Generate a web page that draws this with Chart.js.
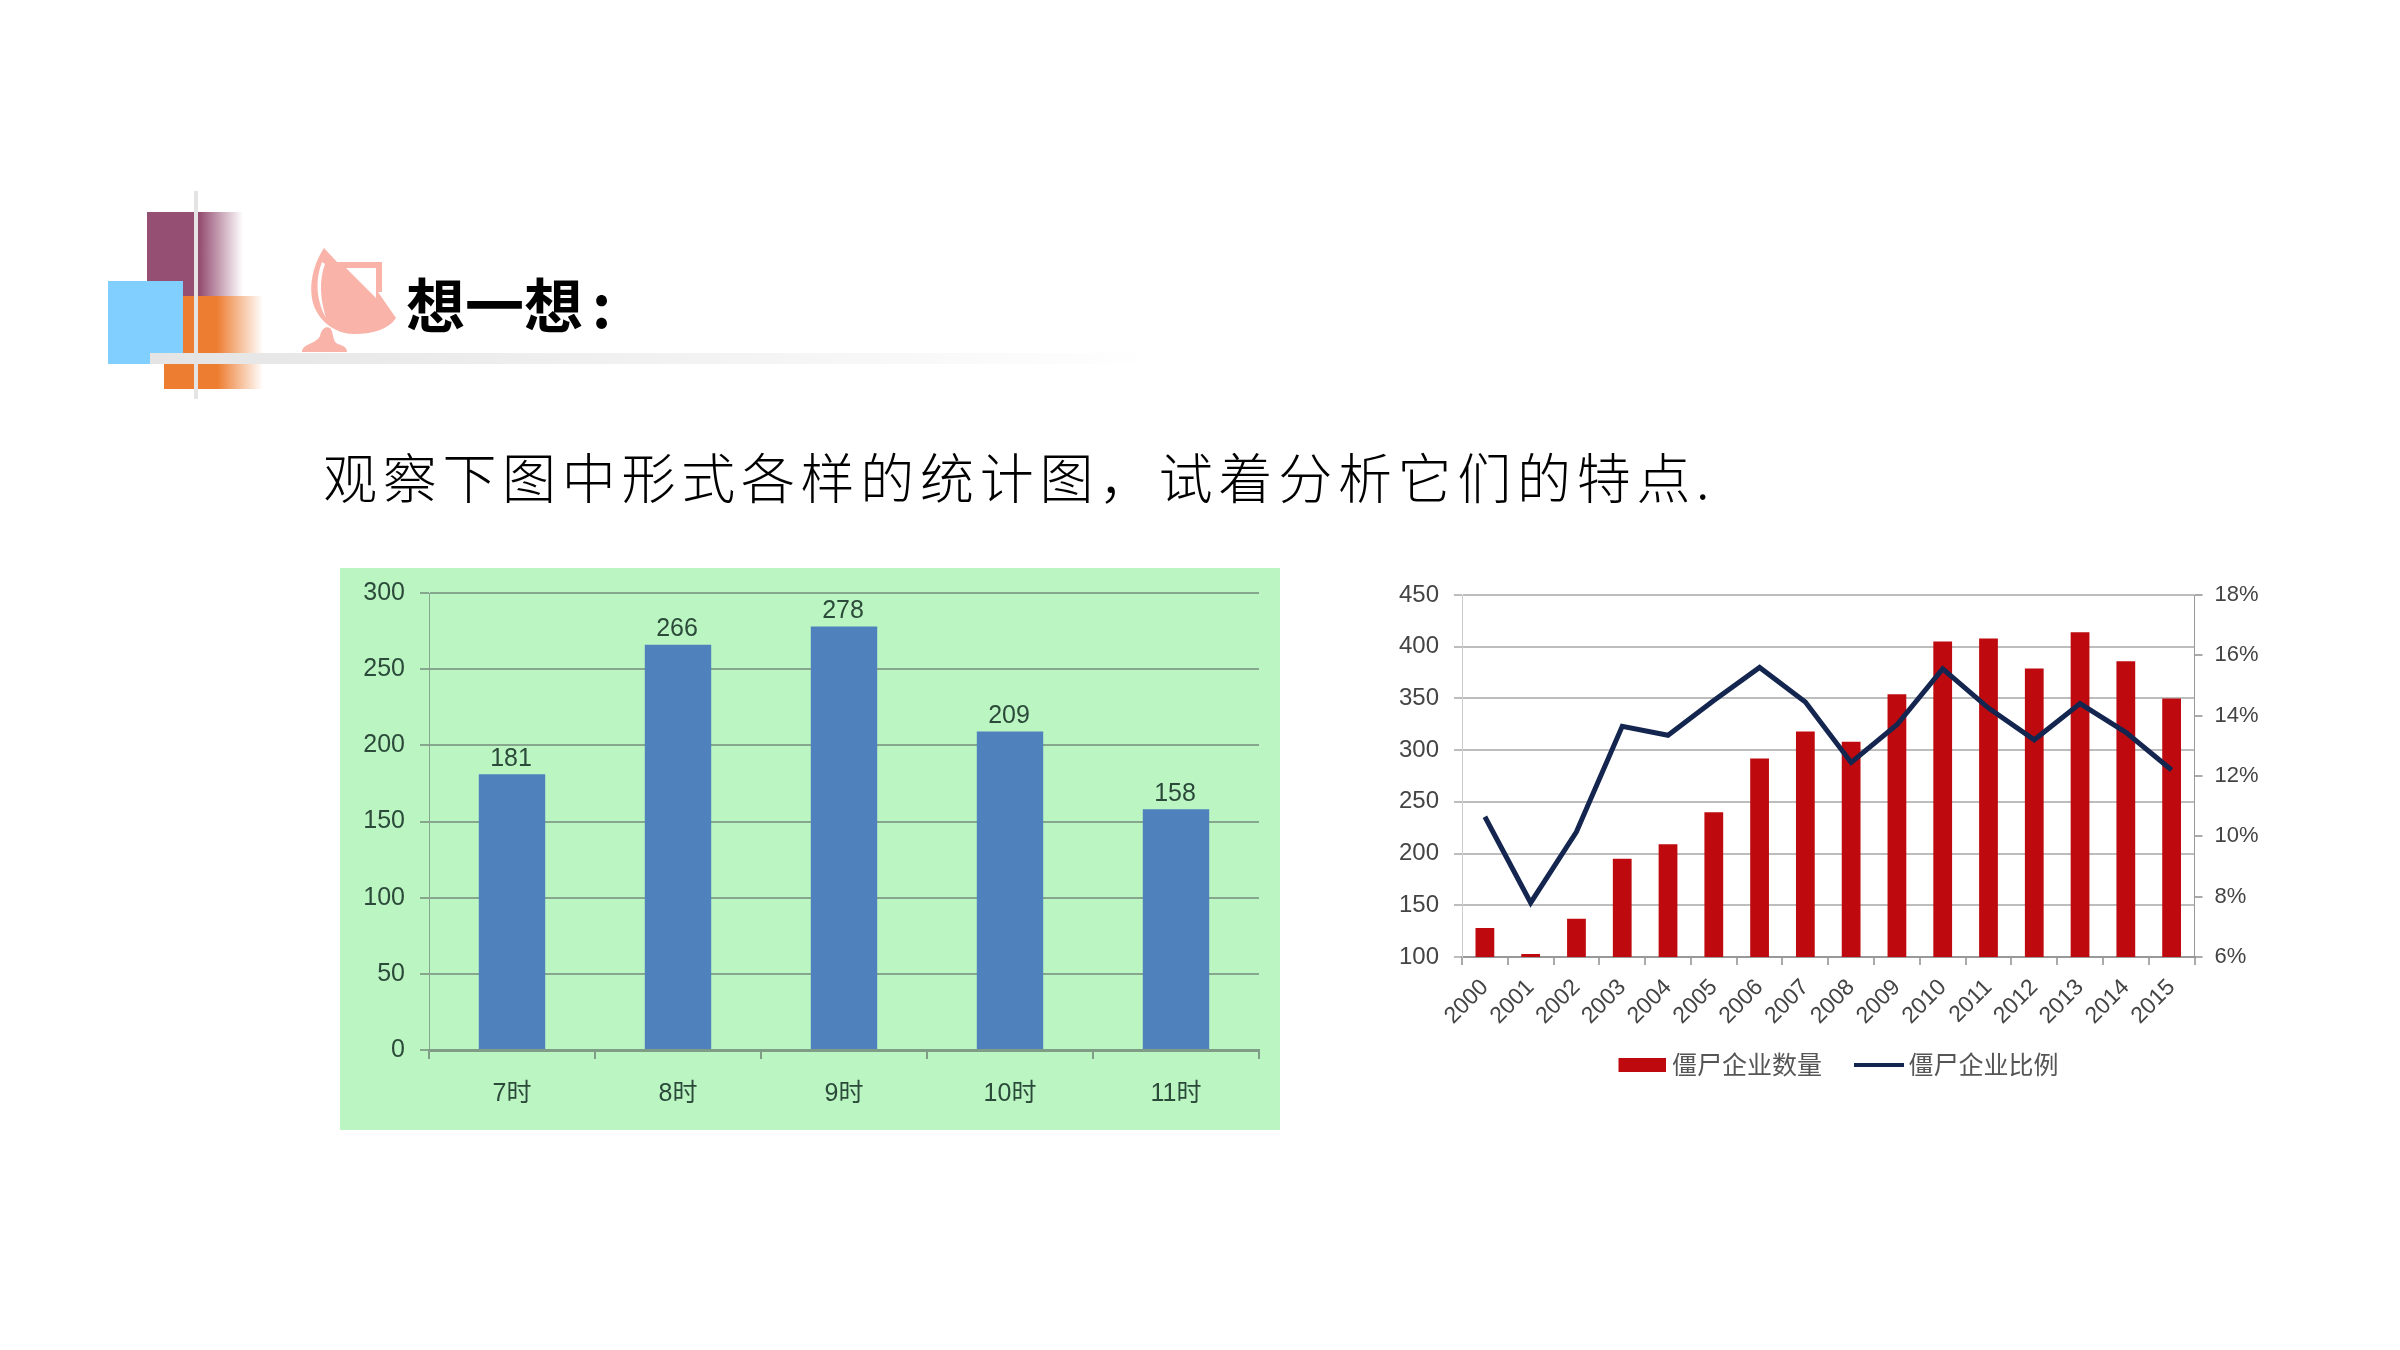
<!DOCTYPE html>
<html lang="zh">
<head>
<meta charset="utf-8">
<title>想一想</title>
<script src="https://cdn.jsdelivr.net/npm/chart.js@4"></script>
<style>
  html, body { margin: 0; width: 2400px; height: 1350px; background: #fff; overflow: hidden; }
  .box { position: absolute; }
  canvas { position: absolute; display: block; }
  #title { position: absolute; left: 406px; top: 263px; font: 700 59px/80px "Noto Sans CJK SC", sans-serif; color: #000; white-space: nowrap; }
  #title span { margin-left: 9px; }
  #subtitle { position: absolute; left: 323px; top: 437px; font: 300 54px/78px "Noto Sans CJK SC", serif; letter-spacing: 5.7px; color: #000; white-space: nowrap; }
</style>
</head>
<body>
<!-- header decoration -->
<div class="box" style="left:147px;top:212px;width:96px;height:84px;background:linear-gradient(90deg,#954f72 0,#954f72 55%,rgba(149,79,114,0) 100%)"></div>
<div class="box" style="left:183px;top:296px;width:80px;height:57px;background:linear-gradient(90deg,#ed7d31 0,#ed7d31 42%,rgba(237,125,49,0) 100%)"></div>
<div class="box" style="left:164px;top:364px;width:99px;height:25px;background:linear-gradient(90deg,#ed7d31 0,#ed7d31 54%,rgba(237,125,49,0) 100%)"></div>
<div class="box" style="left:108px;top:281px;width:75px;height:83px;background:#80cfff"></div>
<div class="box" style="left:150px;top:353px;width:1010px;height:11px;background:linear-gradient(90deg,#e4e4e4 0,#f4f4f4 60%,rgba(255,255,255,0) 100%)"></div>
<div class="box" style="left:194px;top:191px;width:4px;height:208px;background:#e4e4e4"></div>
<svg class="box" style="left:295px;top:240px" width="110" height="120" viewBox="295 240 110 120">
  <path d="M324 248 C312 266 308 290 314 306 C320 322 336 334 354 334 C372 334 388 330 396 318 L378 292 L382 292 L382 262 L345 262 L337 262 Z" fill="#f9b3a8"/>
  <path d="M346 268 L376 268 L376 298 Z" fill="#fff"/>
  <path d="M322 262 C315 280 316 300 326 318 C320 298 319 280 325 264 Z" fill="#fff"/>
  <path d="M302 352 C302 344 316 344 320 336 C322 328 326 326 330 328 C334 332 332 342 338 344 C344 346 347 348 347 352 Z" fill="#f9b3a8"/>
</svg>
<div id="title">想一想<span>:</span></div>
<div id="subtitle">观察下图中形式各样的统计图，试着分析它们的特点.</div>

<div class="box" style="left:340px;top:568px;width:940px;height:562px;background:#bbf5c2"></div>
<canvas id="hourChart" style="left:340px;top:568px"></canvas>
<canvas id="zombieChart" style="left:1370px;top:570px"></canvas>

<script>
// left chart
const hourLabels = ['7时', '8时', '9时', '10时', '11时'];
const hourValues = [181, 266, 278, 209, 158];

// right chart
const years = ['2000', '2001', '2002', '2003', '2004', '2005', '2006', '2007',
               '2008', '2009', '2010', '2011', '2012', '2013', '2014', '2015'];
const zombieCount = [128, 103, 137, 195, 209, 240, 292, 318, 308, 354, 405, 408, 379, 414, 386, 350];
const zombieShare = [10.65, 7.8, 10.15, 13.65, 13.35, 14.5, 15.6, 14.45, 12.45, 13.7, 15.55, 14.25, 13.2, 14.4, 13.45, 12.2];

const seriesNames = ['僵尸企业数量', '僵尸企业比例'];

const sansFont = "'Liberation Sans', 'Noto Sans CJK SC', sans-serif";

// value labels above the bars of the left chart
const barValueLabels = {
  id: 'barValueLabels',
  afterDatasetsDraw(chart) {
    const { ctx } = chart;
    const meta = chart.getDatasetMeta(0);
    ctx.save();
    ctx.font = '25px ' + sansFont;
    ctx.fillStyle = '#2c4a3a';
    ctx.textAlign = 'center';
    ctx.textBaseline = 'bottom';
    meta.data.forEach((bar, i) => {
      ctx.fillText(hourValues[i], bar.x - 1, bar.y - 3);
    });
    ctx.restore();
  }
};

function setupCanvas(id, w, h) {
  const canvas = document.getElementById(id);
  canvas.width = w;
  canvas.height = h;
  return canvas.getContext('2d');
}

new Chart(setupCanvas('hourChart', 940, 562), {
  type: 'bar',
  data: {
    labels: hourLabels,
    datasets: [{ data: hourValues, backgroundColor: '#4f81bd', barPercentage: 0.4, categoryPercentage: 1 }]
  },
  plugins: [barValueLabels],
  options: {
    responsive: false,
    animation: false,
    layout: { autoPadding: false, padding: { top: 25, right: 21 } },
    plugins: { legend: { display: false }, tooltip: { enabled: false } },
    scales: {
      x: {
        afterFit: scale => { scale.height = 80; },
        grid: { drawOnChartArea: false, color: '#7f9c86', tickLength: 9, lineWidth: 2 },
        border: { color: '#7f9c86', width: 3 },
        ticks: { color: '#2c4a3a', padding: 20, font: { size: 25, family: sansFont } }
      },
      y: {
        min: 0,
        max: 300,
        afterFit: scale => { scale.width = 89; },
        grid: { color: '#86a68e', lineWidth: 2, tickLength: 9 },
        border: { color: '#86a68e', width: 1 },
        // small lineHeight so the label padding does not push the plot top down
        ticks: { stepSize: 50, color: '#2c4a3a', padding: 15, font: { size: 25, lineHeight: 0.8, family: sansFont } }
      }
    }
  }
});

// legend swatches, a filled bar and a short line, nudged right with a clear strip
function swatch(w, h, color) {
  const nudge = 14;
  const c = document.createElement('canvas');
  c.width = w + nudge;
  c.height = h;
  const g = c.getContext('2d');
  g.fillStyle = color;
  g.fillRect(nudge, 0, w, h);
  return c;
}
const legendSwatches = [swatch(48, 14, '#be0a0e'), swatch(50, 4, '#14264f')];

new Chart(setupCanvas('zombieChart', 930, 517), {
  type: 'bar',
  data: {
    labels: years,
    datasets: [
      { type: 'bar', label: seriesNames[0], data: zombieCount, yAxisID: 'y', backgroundColor: '#be0a0e',
        barPercentage: 0.41, categoryPercentage: 1, order: 2 },
      { type: 'line', label: seriesNames[1], data: zombieShare, yAxisID: 'y1', borderColor: '#14264f',
        borderWidth: 5, pointRadius: 0, tension: 0, order: 1 }
    ]
  },
  options: {
    responsive: false,
    animation: false,
    layout: { autoPadding: false, padding: { top: 25 } },
    plugins: {
      tooltip: { enabled: false },
      legend: {
        position: 'bottom',
        labels: {
          usePointStyle: true,
          pointStyleWidth: 48,
          padding: 26,
          color: '#555',
          font: { size: 25, family: "'Noto Sans CJK SC', sans-serif" },
          sort: (a, b) => a.datasetIndex - b.datasetIndex,
          generateLabels: chart => Chart.defaults.plugins.legend.labels.generateLabels(chart)
            .map(item => ({ ...item, pointStyle: legendSwatches[item.datasetIndex] }))
        }
      }
    },
    scales: {
      x: {
        afterFit: scale => { scale.height = 69; },
        grid: { drawOnChartArea: false, color: '#aaa', tickLength: 8, lineWidth: 2 },
        border: { color: '#999', width: 2 },
        ticks: { color: '#444', padding: 9, minRotation: 45, maxRotation: 45, font: { size: 23, family: sansFont } }
      },
      y: {
        min: 100,
        max: 450,
        afterFit: scale => { scale.width = 92; },
        grid: { color: '#bdbdbd', lineWidth: 2, tickLength: 8 },
        border: { color: '#ccc', width: 1 },
        ticks: { stepSize: 50, color: '#444', padding: 15, font: { size: 24, lineHeight: 0.8, family: sansFont } }
      },
      y1: {
        position: 'right',
        min: 6,
        max: 18,
        afterFit: scale => { scale.width = 105.5; },
        grid: { drawOnChartArea: false, color: '#aaa', tickLength: 8, lineWidth: 2 },
        border: { color: '#999', width: 1 },
        ticks: { stepSize: 2, color: '#444', padding: 12, font: { size: 22, lineHeight: 0.8, family: sansFont }, callback: v => v + '%' }
      }
    }
  }
});
</script>
</body>
</html>
